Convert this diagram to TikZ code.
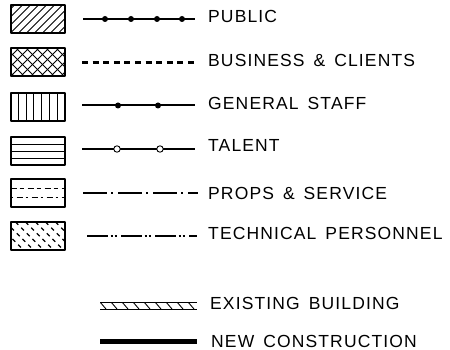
\documentclass[tikz,border=0pt]{standalone}
\usepackage{fontspec}
\newfontfamily\legendfont[LetterSpace=6.5,WordSpace=1.5]{Liberation Sans}
\begin{document}
\begin{tikzpicture}[
		x=1pt,y=-1pt,
		line join=round,
		swatch/.style={draw,line width=2pt,minimum width=54pt,minimum height=28pt,inner sep=0pt},
		hatch/.style={line width=0.9pt},
		diagonal/.style={path picture={\foreach \d in {-32,-24,...,56}
				\draw[hatch] ([xshift=\d pt]path picture bounding box.south west) -- ++(30pt,30pt);}},
		crossed/.style={path picture={\foreach \d in {-40,-30,...,60}{
				\draw[hatch] ([xshift=\d pt]path picture bounding box.south west) -- ++(30pt,30pt);
				\draw[hatch] ([xshift=-\d pt]path picture bounding box.south east) -- ++(-30pt,30pt);}}},
		upright/.style={path picture={\foreach \i in {1,...,6}
				\draw[hatch] ([xshift=\i*7.8pt]path picture bounding box.south west) -- ++(0pt,30pt);}},
		levels/.style={path picture={\foreach \i in {1,2,3}
				\draw[hatch] ([yshift=\i*7pt]path picture bounding box.south west) -- ++(60pt,0pt);}},
		broken/.style={path picture={
				\draw[hatch,dash pattern=on 6pt off 3pt on 4pt off 4pt] ([yshift=18.5pt]path picture bounding box.south west) -- ++(60pt,0pt);
				\draw[hatch,dash pattern=on 2pt off 4pt on 6pt off 3pt] ([yshift=9.5pt]path picture bounding box.south west) -- ++(60pt,0pt);}},
		slanted/.style={path picture={\foreach \d in {-25,-15,...,55}
				\draw[hatch,line width=1.1pt,dash pattern=on 4pt off 4pt] ([xshift=\d pt]path picture bounding box.north west) -- ++(30pt,-30pt);}},
		route/.style={line width=2pt},
		caption/.style={anchor=west,inner sep=0pt,font=\legendfont\fontsize{17.5}{17.5}\selectfont}
		]
		\useasboundingbox (0,0) rectangle (450,350);
		\node[swatch,diagonal] (public) at (37.5,19) {};
		\node[swatch,crossed] (business) at (37.5,62.4) {};
		\node[swatch,upright] (staff) at (37.5,107) {};
		\node[swatch,levels] (talent) at (37.5,151) {};
		\node[swatch,broken] (props) at (37.5,192.6) {};
		\node[swatch,slanted] (technical) at (37.5,236) {};
		\coordinate (public a) at (83,19);
		\coordinate (public b) at (195,19);
		\draw[route] (public a) -- (public b);
		\foreach \x in {105,131,157,182}
		\fill (\x,19) circle (3);
		\coordinate (business a) at (82,62.4);
		\coordinate (business b) at (196,62.4);
		\draw[route,line width=2.4pt,dash pattern=on 6pt off 4.6pt] (business a) -- (business b);
		\coordinate (staff a) at (82,105.5);
		\coordinate (staff b) at (195,105.5);
		\draw[route] (staff a) -- (staff b);
		\foreach \x in {118,158}
		\fill (\x,105.5) circle (3);
		\coordinate (talent a) at (82,149);
		\coordinate (talent b) at (195,149);
		\draw[route] (talent a) -- (talent b);
		\foreach \x in {117,160}
		\draw[line width=0.9pt,fill=white] (\x,149) circle (3.2);
		\coordinate (props a) at (83,193);
		\coordinate (props b) at (198,193);
		\draw[route,dash pattern=on 24pt off 4pt on 2pt off 5pt] (props a) -- (props b);
		\coordinate (technical a) at (87,236);
		\coordinate (technical b) at (197,236);
		\draw[route,dash pattern=on 21pt off 2.5pt on 2pt off 2pt on 2pt off 4.5pt] (technical a) -- (technical b);
		\coordinate (existing a) at (100,302);
		\coordinate (existing b) at (197,302);
		\draw[line width=1pt] (existing a) -- (existing b) ([yshift=-7pt]existing a) -- ([yshift=-7pt]existing b);
		\begin{scope}
		\clip (existing a) rectangle ([yshift=-7pt]existing b);
		\foreach \x in {100,111,...,200}
		\draw[hatch] (\x,302) -- ++(6pt,-7pt);
		\end{scope}
		\coordinate (new a) at (100,341);
		\coordinate (new b) at (197,341);
		\draw[line width=5pt] (new a) -- (new b);
		\node[caption] (public text) at (208,16) {PUBLIC};
		\node[caption] (business text) at (208,60.5) {BUSINESS \& CLIENTS};
		\node[caption] (staff text) at (208,103.5) {GENERAL STAFF};
		\node[caption] (talent text) at (208,145.5) {TALENT};
		\node[caption] (props text) at (208,193) {PROPS \& SERVICE};
		\node[caption] (technical text) at (208,233.5) {TECHNICAL PERSONNEL};
		\node[caption] (existing text) at (210,303.5) {EXISTING BUILDING};
		\node[caption] (new text) at (211,341.5) {NEW CONSTRUCTION};
		\end{tikzpicture}
\end{document}
